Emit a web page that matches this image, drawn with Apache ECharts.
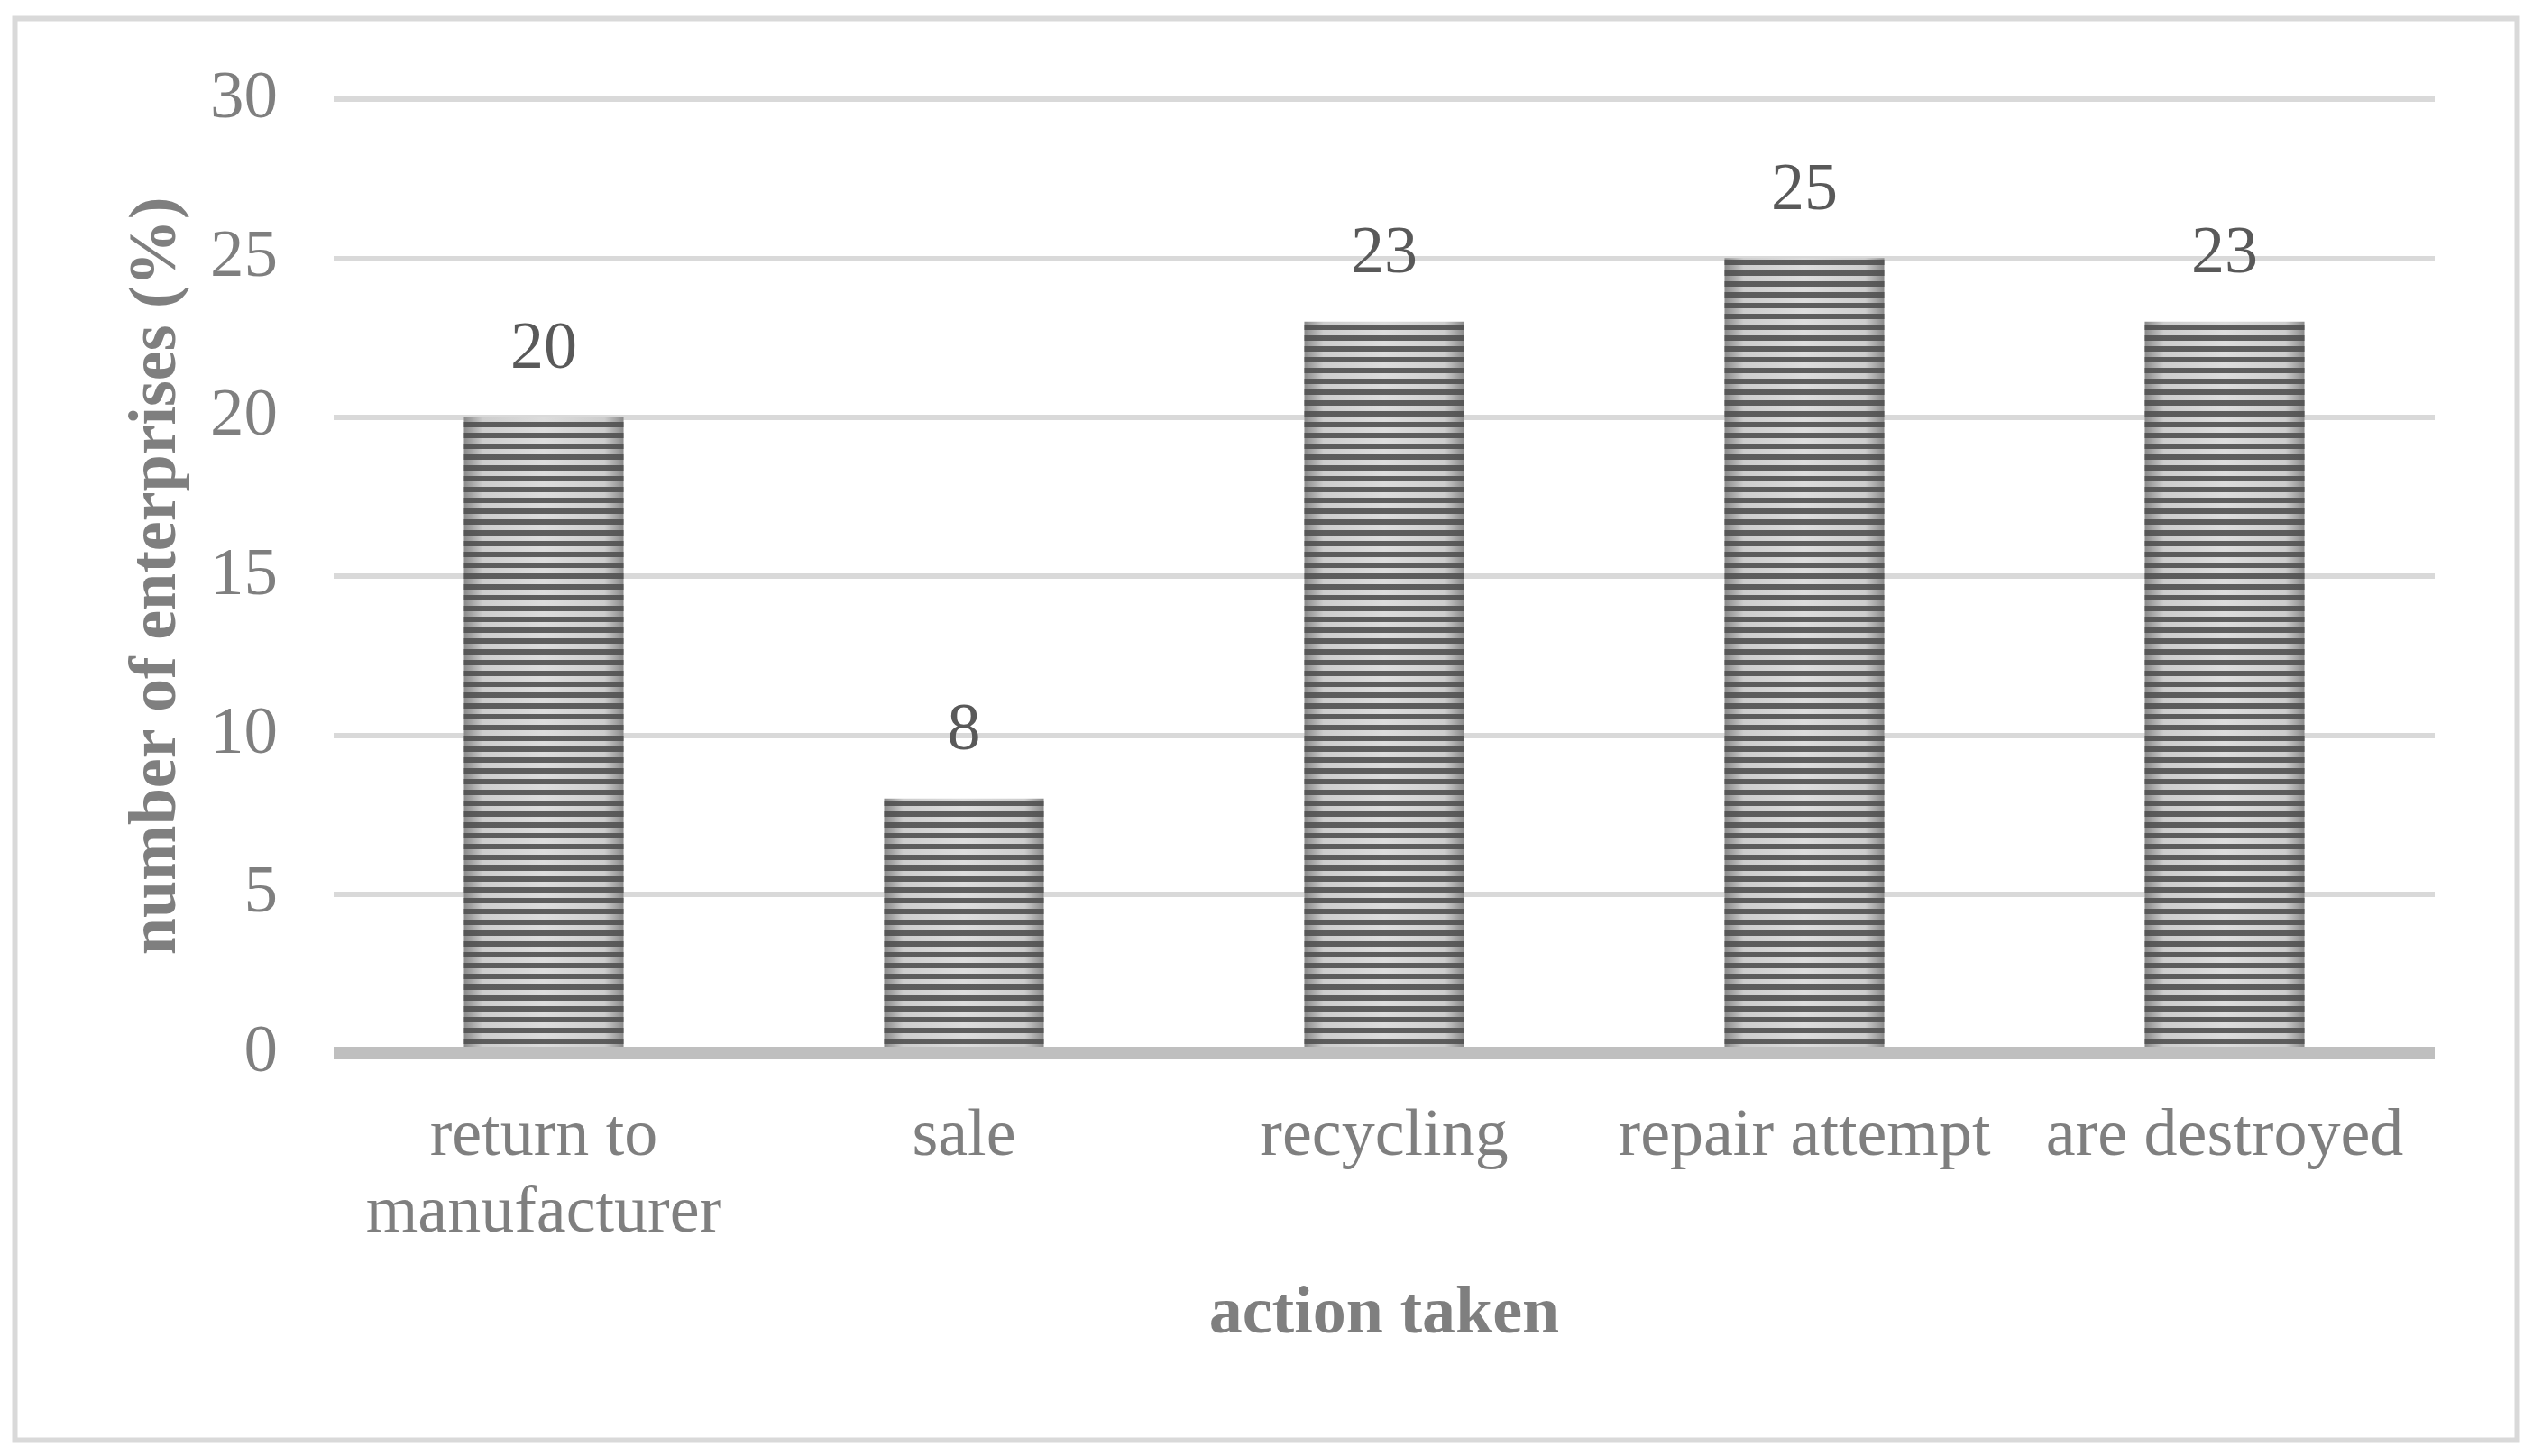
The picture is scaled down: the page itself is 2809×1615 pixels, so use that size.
<!DOCTYPE html>
<html>
<head>
<meta charset="utf-8">
<style>
  html, body { margin: 0; padding: 0; background: #ffffff; }
  #chart { width: 2809px; height: 1615px; }
</style>
<script src="https://cdn.jsdelivr.net/npm/echarts@6/dist/echarts.min.js"></script>
</head>
<body>
<div id="chart"></div>
<script>
const categories = ['return to\nmanufacturer', 'sale', 'recycling', 'repair attempt', 'are destroyed'];
const values = [20, 8, 23, 25, 23];
const yTicks = { min: 0, max: 30, interval: 5 };
const xAxisTitle = 'action taken';
const yAxisTitle = 'number of enterprises (%)';

const FONT = 'Liberation Serif';
const chart = echarts.init(document.getElementById('chart'), null, { renderer: 'canvas' });

chart.setOption({
  backgroundColor: '#ffffff',
  animation: false,
  graphic: [{
    type: 'rect',
    shape: { x: 16.5, y: 20.5, width: 2775, height: 1577 },
    style: { fill: 'none', stroke: '#d9d9d9', lineWidth: 6 },
    silent: true
  }],
  grid: { left: 370, right: 109, top: 110, bottom: 447, containLabel: false },
  xAxis: {
    type: 'category',
    data: categories,
    z: 3,
    axisLine: { show: true, lineStyle: { color: '#bfbfbf', width: 14, cap: 'butt' } },
    axisTick: { show: false },
    axisLabel: {
      interval: 0,
      margin: 51,
      color: '#7f7f7f',
      fontFamily: FONT,
      fontSize: 74,
      lineHeight: 85
    },
    name: xAxisTitle,
    nameLocation: 'middle',
    nameGap: 254,
    nameTextStyle: { color: '#7f7f7f', fontFamily: FONT, fontSize: 74, fontWeight: 'bold' }
  },
  yAxis: {
    type: 'value',
    min: yTicks.min,
    max: yTicks.max,
    interval: yTicks.interval,
    axisLine: { show: false },
    axisTick: { show: false },
    splitLine: { show: true, lineStyle: { color: '#d9d9d9', width: 6 } },
    axisLabel: {
      margin: 62,
      color: '#7f7f7f',
      fontFamily: FONT,
      fontSize: 75
    },
    name: yAxisTitle,
    nameLocation: 'middle',
    nameGap: 158,
    nameRotate: 90,
    nameTextStyle: { color: '#7f7f7f', fontFamily: FONT, fontSize: 74, fontWeight: 'bold' }
  },
  series: [{
    type: 'bar',
    data: values,
    barWidth: '38%',
    itemStyle: {
      color: {
        type: 'linear', x: 0, y: 0, x2: 1, y2: 0,
        colorStops: [
          { offset: 0, color: '#8a8a8a' },
          { offset: 0.12, color: '#cdcdcd' },
          { offset: 0.5, color: '#dcdcdc' },
          { offset: 0.88, color: '#cdcdcd' },
          { offset: 1, color: '#8a8a8a' }
        ]
      },
      decal: {
        symbol: 'rect',
        symbolSize: 1,
        color: 'rgba(80,80,80,0.9)',
        dashArrayX: [10, 0],
        dashArrayY: [6, 6],
        rotation: 0
      }
    },
    label: {
      show: true,
      position: 'top',
      distance: 37,
      color: '#595959',
      fontFamily: FONT,
      fontSize: 74
    }
  }]
});
</script>
</body>
</html>
